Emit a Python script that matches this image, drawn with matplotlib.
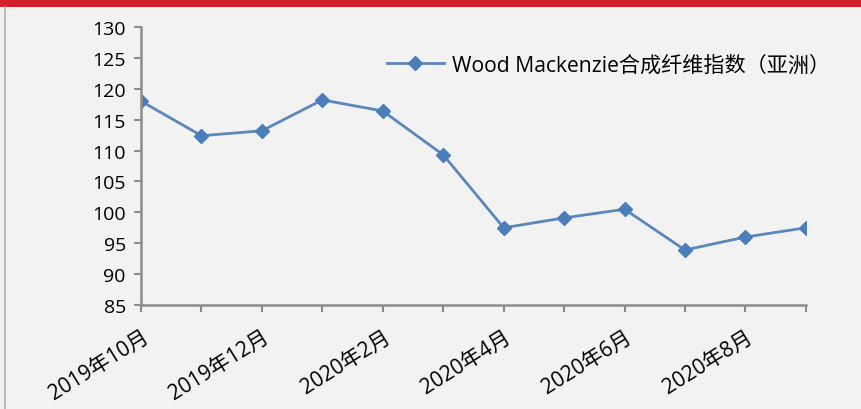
import matplotlib
matplotlib.use('Agg')
from matplotlib import pyplot as plt
from matplotlib.patches import Rectangle
from matplotlib.lines import Line2D

plt.rcParams['font.family'] = ['Open Sans', 'Noto Sans CJK SC', 'DejaVu Sans']

months = ['2019年10月', '2019年11月', '2019年12月', '2020年1月', '2020年2月', '2020年3月',
          '2020年4月', '2020年5月', '2020年6月', '2020年7月', '2020年8月', '2020年9月']
index_vals = [118.0, 112.4, 113.2, 118.2, 116.4, 109.3, 97.5, 99.1, 100.5, 93.9, 96.0, 97.5]
series_name = 'Wood Mackenzie合成纤维指数（亚洲）'

bg = '#f2f2f2'
fig = plt.figure(figsize=(8.61, 4.10), dpi=100, facecolor=bg)
ax = fig.add_axes([0.1638, 0.2537, 0.936 - 0.1638, 0.9317 - 0.2537])
ax.set_facecolor(bg)

x = list(range(len(months)))
ax.plot(x, index_vals, color='#5b87bd', lw=2.0, marker='D', markersize=7,
        markerfacecolor='#4a7ebb', markeredgecolor='#4a7ebb', label=series_name)

ax.set_xlim(0, len(months) - 1)
ax.set_ylim(85, 130)
ax.set_yticks(range(85, 131, 5))
ax.set_xticks(x)
ax.set_xticklabels([m if i % 2 == 0 else '' for i, m in enumerate(months)],
                   rotation=32, ha='right', rotation_mode='anchor', fontsize=15)
ax.tick_params(axis='y', labelsize=14, length=5, width=1.5, color='#8c8c8c', pad=6)
ax.tick_params(axis='x', length=5, width=1.5, color='#8c8c8c', pad=10)

for s in ['top', 'right']:
    ax.spines[s].set_visible(False)
for s in ['left', 'bottom']:
    ax.spines[s].set_color('#8c8c8c')
    ax.spines[s].set_linewidth(1.8)

leg = ax.legend(loc='upper right', bbox_to_anchor=(1.065, 0.97), frameon=False,
                fontsize=15.2, handlelength=2.7, handletextpad=0.4)

# red header bar and left frame line
fig.add_artist(Rectangle((0, 1 - 8 / 410), 1, 8 / 410, transform=fig.transFigure,
                         facecolor='#d11f2e', edgecolor='none'))
fig.add_artist(Line2D([5 / 861, 5 / 861], [0, 1 - 8 / 410], transform=fig.transFigure,
                      color='#b0b0b0', lw=1.2))

fig.savefig('out.png', dpi=100, facecolor=bg)
